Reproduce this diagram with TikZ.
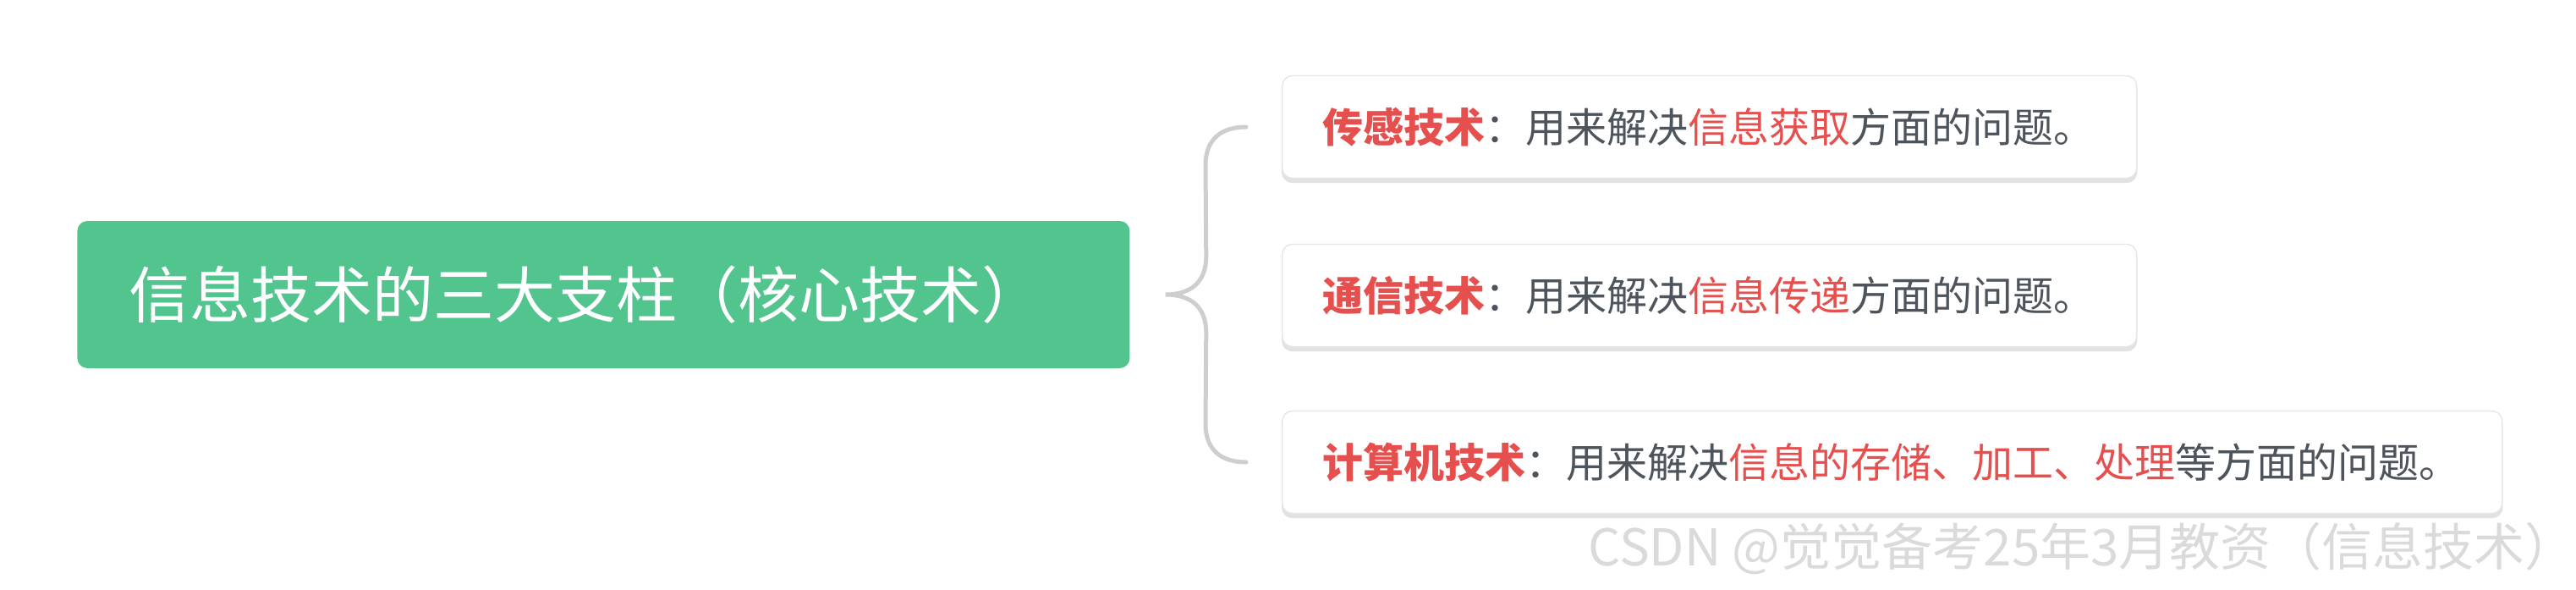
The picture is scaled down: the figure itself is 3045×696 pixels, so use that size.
\documentclass[tikz,border=0pt]{standalone}
\usepackage{fontspec}
\setmainfont{Noto Sans CJK SC}
\usetikzlibrary{calc}
\definecolor{rootgreen}{HTML}{52C48D}
\definecolor{hl}{HTML}{E5504F}
\definecolor{txt}{HTML}{4D545B}
\definecolor{bordergrey}{HTML}{E6E6E6}
\definecolor{shadowgrey}{HTML}{E2E2E2}
\definecolor{bracegrey}{HTML}{CDCFCE}
\definecolor{wmgrey}{HTML}{DADADA}
\tikzset{
  rootbox/.style={fill=rootgreen, rounded corners=6pt, text=white,
    font=\fontsize{36pt}{40pt}\selectfont, inner xsep=30.5pt, inner ysep=0pt,
    text width=561pt, align=left, minimum height=87pt, anchor=west},
  leafbox/.style={fill=white, draw=bordergrey, line width=0.7pt, rounded corners=6pt,
    text=txt, font=\fontsize{24pt}{28pt}\selectfont, inner xsep=24pt, inner ysep=0pt,
    align=left, minimum height=60.5pt, anchor=west,
    preaction={fill=shadowgrey, draw=shadowgrey, transform canvas={yshift=-2.5pt}}},
  bracestyle/.style={draw=bracegrey, line width=2.5pt, line cap=round},
  wmstyle/.style={text=wmgrey, font=\fontsize{30pt}{34pt}\selectfont, inner sep=0pt}
}
\begin{document}
\begin{tikzpicture}[x=0.5pt,y=-0.5pt]
\useasboundingbox (0,0) rectangle (3045,696);
\node[rootbox] (root) at (91,348) {信息技术的三大支柱（核心技术）};
\node[leafbox, text width=457pt] (l1) at (1515,150) {{\bfseries\color{hl}传感技术}：用来解决{\color{hl}信息获取}方面的问题。};
\node[leafbox, text width=457pt] (l2) at (1515,349) {{\bfseries\color{hl}通信技术}：用来解决{\color{hl}信息传递}方面的问题。};
\node[leafbox, text width=673pt] (l3) at (1515,546) {{\bfseries\color{hl}计算机技术}：用来解决{\color{hl}信息的存储、加工、处理}等方面的问题。};
\coordinate (tip) at ([xshift=21pt]root.east);
\coordinate (e1) at ([xshift=-21pt]l1.west);
\coordinate (e3) at ([xshift=-21pt]l3.west);
\draw[bracestyle] (e1) .. controls ($(e1)+(-30,0)$) and ($(e1)+(-48,15)$) .. ($(e1)+(-48,45)$)
  -- ($(tip)+(48,-45)$) .. controls ($(tip)+(48,-15)$) and ($(tip)+(30,0)$) .. (tip)
  .. controls ($(tip)+(30,0)$) and ($(tip)+(48,15)$) .. ($(tip)+(48,45)$)
  -- ($(e3)+(-48,-45)$) .. controls ($(e3)+(-48,-15)$) and ($(e3)+(-30,0)$) .. (e3);
\node[wmstyle, anchor=east] (wm) at (3045,648) {CSDN @觉觉备考25年3月教资（信息技术）};
\end{tikzpicture}
\end{document}
